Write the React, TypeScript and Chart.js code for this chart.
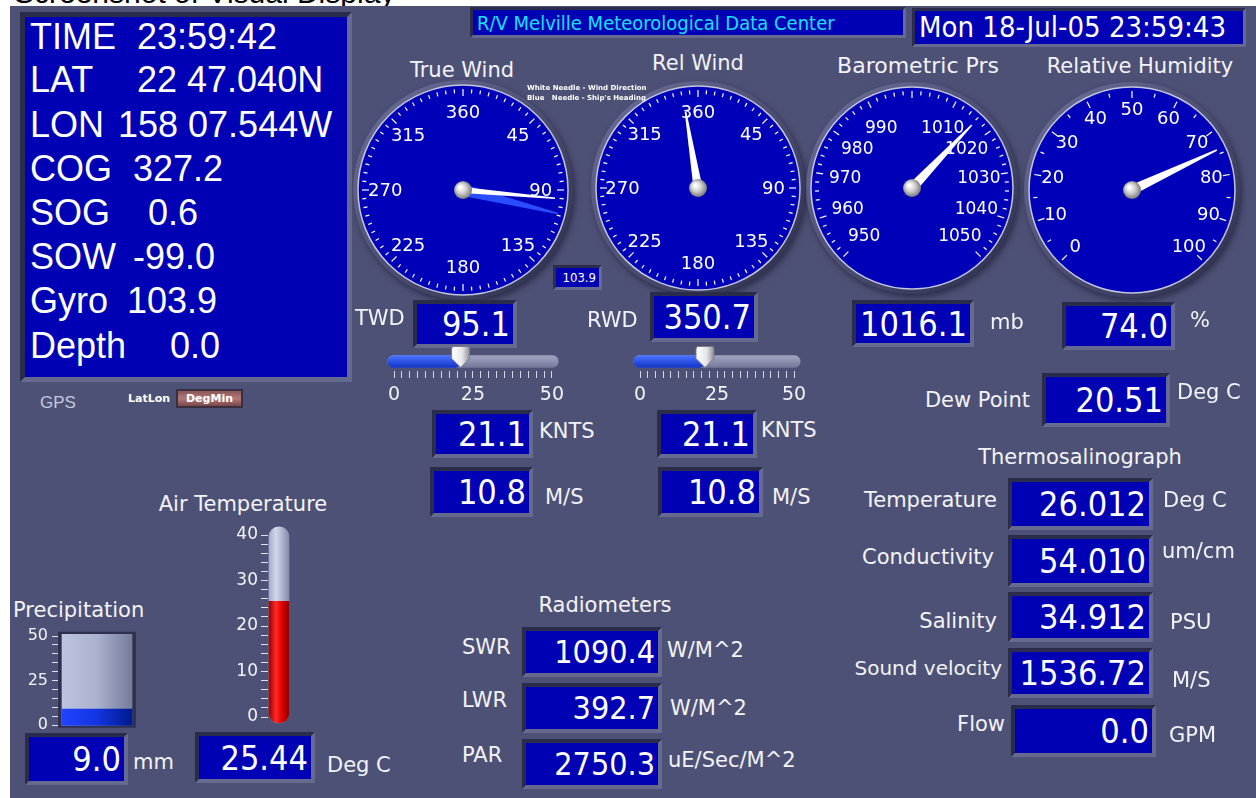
import React, { useEffect, useRef } from "react";
import { Chart, registerables } from "chart.js";

Chart.register(...registerables);

// ================= DATA =================
const captionText = "Screenshot of Visual Display";
const headerTitle = "R/V Melville Meteorological Data Center";
const headerClock = "Mon 18-Jul-05 23:59:43";

const gpsFields = ["TIME", "LAT", "LON", "COG", "SOG", "SOW", "Gyro", "Depth"];
const gpsValues = ["23:59:42", "22 47.040N", "158 07.544W", "327.2", "0.6", "-99.0", "103.9", "0.0"];

const gaugeTitles = ["True Wind", "Rel Wind", "Barometric Prs", "Relative Humidity"];
const compassLabelValues = [0, 45, 90, 135, 180, 225, 270, 315];
const compassLabelTexts = ["360", "45", "90", "135", "180", "225", "270", "315"];
const pressureLabelValues = [950, 960, 970, 980, 990, 1010, 1020, 1030, 1040, 1050];
const humidityLabelValues = [0, 10, 20, 30, 40, 50, 60, 70, 80, 90, 100];

const trueWindDirection = 95.1;
const shipHeading = 103.9;
const relWindDirection = 350.7;
const barometricPressure = 1016.1;
const relativeHumidity = 74.0;

const windSpeedTickValues = [0, 2.5, 5, 7.5, 10, 12.5, 15, 17.5, 20, 22.5, 25, 27.5, 30, 32.5, 35, 37.5, 40, 42.5, 45, 47.5, 50];
const windSpeedTickLabels = [0, 25, 50];
const trueWindKnots = 21.1;
const trueWindMs = 10.8;
const relWindKnots = 21.1;
const relWindMs = 10.8;

const precipTickValues = [0, 5, 10, 15, 20, 25, 30, 35, 40, 45, 50];
const precipTickLabels = [0, 25, 50];
const precipitationMm = 9.0;

const airTempTickValues = [0, 2, 4, 6, 8, 10, 12, 14, 16, 18, 20, 22, 24, 26, 28, 30, 32, 34, 36, 38, 40];
const airTempTickLabels = [0, 10, 20, 30, 40];
const airTemperature = 25.44;

const dewPoint = 20.51;

const tsgLabels = ["Temperature", "Conductivity", "Salinity", "Sound velocity", "Flow"];
const tsgValues = [26.012, 54.01, 34.912, 1536.72, 0.0];
const tsgDecimals = [3, 3, 3, 2, 1];
const tsgUnits = ["Deg C", "um/cm", "PSU", "M/S", "GPM"];

const radLabels = ["SWR", "LWR", "PAR"];
const radValues = [1090.4, 392.7, 2750.3];
const radUnits = ["W/M^2", "W/M^2", "uE/Sec/M^2"];

// ================= STYLE =================
const PANEL = "#4e5176";
const BLUE = "#0000b4";
const BEV_D = "#2a2c4a";
const BEV_L = "#666a8e";
const TXT = "#f3f3f7";
const LFONT = '"DejaVu Sans", Verdana, sans-serif';
const VFONT = '"DejaVu Sans Condensed", "DejaVu Sans", sans-serif';
const AFONT = '"Liberation Sans", Arial, sans-serif';

function Txt({ x, y, text, size = 21, align = "left", color = TXT, font = LFONT, bold = false, stretch = "normal" }: any) {
  const tx = align === "left" ? "0" : align === "center" ? "-50%" : "-100%";
  return (
    <div
      style={{
        position: "absolute",
        left: x,
        top: y,
        transform: `translate(${tx},-50%)`,
        fontFamily: font,
        fontSize: size,
        lineHeight: 1,
        color,
        whiteSpace: "pre",
        fontWeight: bold ? 700 : 400,
        fontStretch: stretch,
      }}
    >
      {text}
    </div>
  );
}

function Box({ x, y, w, h, text, size = 34, bw = 4, pr = 3, align = "flex-end", color = "#fff" }: any) {
  return (
    <div
      style={{
        position: "absolute",
        left: x,
        top: y,
        width: w,
        height: h,
        boxSizing: "border-box",
        background: BLUE,
        borderStyle: "solid",
        borderWidth: bw,
        borderColor: `${BEV_D} ${BEV_L} ${BEV_L} ${BEV_D}`,
        color,
        fontFamily: VFONT,
        fontStretch: "condensed",
        fontSize: size,
        lineHeight: 1,
        display: "flex",
        alignItems: "center",
        justifyContent: align,
        paddingRight: pr,
        paddingLeft: 4,
        whiteSpace: "nowrap",
      }}
    >
      {text}
    </div>
  );
}

const baseOpts: any = {
  animation: false,
  responsive: false,
  events: [],
  devicePixelRatio: 1,
  plugins: { legend: { display: false }, tooltip: { enabled: false } },
};

const hGrad = (stops: [number, string][], width: number) => (c: any) => {
  const chart = c.chart;
  const a = chart.chartArea;
  if (!a) return stops[0][1];
  const m = (a.left + a.right) / 2;
  const g = chart.ctx.createLinearGradient(m - width / 2, 0, m + width / 2, 0);
  stops.forEach(([o, col]) => g.addColorStop(o, col));
  return g;
};
const vGrad = (stops: [number, string][], height: number) => (c: any) => {
  const chart = c.chart;
  const a = chart.chartArea;
  if (!a) return stops[0][1];
  const m = (a.top + a.bottom) / 2;
  const g = chart.ctx.createLinearGradient(0, m - height / 2, 0, m + height / 2);
  stops.forEach(([o, col]) => g.addColorStop(o, col));
  return g;
};

// ================= GAUGE =================
type Needle = { value: number; color: string; width: number; len: number };
type GaugeCfg = {
  cx: number;
  cy: number;
  r: number;
  min: number;
  max: number;
  a0: number;
  a1: number;
  labelValues: number[];
  labelTexts: string[];
  labelR: number;
  labelSize: number;
  tickStep: number;
  majorStep: number;
  needles: Needle[];
};

function Gauge({ cfg }: { cfg: GaugeCfg }) {
  const ref = useRef<HTMLCanvasElement>(null);
  const pad = 16;
  const size = cfg.r * 2 + pad * 2;
  useEffect(() => {
    const ang = (v: number) => ((cfg.a0 + ((v - cfg.min) / (cfg.max - cfg.min)) * (cfg.a1 - cfg.a0)) * Math.PI) / 180;
    const plugin = {
      id: "dialFace",
      beforeDatasetsDraw(chart: any) {
        const el: any = chart.getDatasetMeta(0).data[0];
        const { x, y } = el;
        const R = el.outerRadius;
        const ctx = chart.ctx;
        ctx.save();
        ctx.shadowColor = "rgba(15,15,35,0.55)";
        ctx.shadowBlur = 6;
        ctx.shadowOffsetX = 2;
        ctx.shadowOffsetY = 3;
        const g = ctx.createLinearGradient(x - R, y - R, x + R, y + R);
        g.addColorStop(0, "#6c6f98");
        g.addColorStop(1, "#2c2e4e");
        ctx.fillStyle = g;
        ctx.beginPath();
        ctx.arc(x, y, R + 5, 0, Math.PI * 2);
        ctx.fill();
        ctx.restore();
      },
      afterDatasetsDraw(chart: any) {
        const el: any = chart.getDatasetMeta(0).data[0];
        const { x, y } = el;
        const R = el.outerRadius;
        const ctx = chart.ctx;
        ctx.save();
        ctx.strokeStyle = "#c4c6dc";
        ctx.lineWidth = 1.5;
        ctx.beginPath();
        ctx.arc(x, y, R, 0, Math.PI * 2);
        ctx.stroke();
        const full = cfg.a1 - cfg.a0 >= 360;
        const steps = Math.round((cfg.max - cfg.min) / cfg.tickStep);
        ctx.strokeStyle = "#ffffff";
        ctx.lineWidth = 1.2;
        for (let i = 0; i < (full ? steps : steps + 1); i++) {
          const v = cfg.min + i * cfg.tickStep;
          const rem = Math.abs((v - cfg.min) % cfg.majorStep);
          const major = rem < 1e-6 || Math.abs(rem - cfg.majorStep) < 1e-6;
          const a = ang(v);
          const r1 = R - 4;
          const r2 = R - (major ? 11 : 8);
          ctx.beginPath();
          ctx.moveTo(x + Math.sin(a) * r1, y - Math.cos(a) * r1);
          ctx.lineTo(x + Math.sin(a) * r2, y - Math.cos(a) * r2);
          ctx.stroke();
        }
        ctx.fillStyle = "#ffffff";
        ctx.font = `${cfg.labelSize}px "DejaVu Sans"`;
        ctx.textAlign = "center";
        ctx.textBaseline = "middle";
        cfg.labelValues.forEach((v, i) => {
          const a = ang(v);
          ctx.fillText(cfg.labelTexts[i], x + Math.sin(a) * R * cfg.labelR, y - Math.cos(a) * R * cfg.labelR + 1);
        });
        cfg.needles.forEach((n) => {
          const a = ang(n.value);
          const L = R * n.len;
          const ux = Math.sin(a);
          const uy = -Math.cos(a);
          const px = -uy;
          const py = ux;
          ctx.beginPath();
          ctx.moveTo(x + (px * n.width) / 2, y + (py * n.width) / 2);
          ctx.lineTo(x + ux * L + px * 0.8, y + uy * L + py * 0.8);
          ctx.lineTo(x + ux * L - px * 0.8, y + uy * L - py * 0.8);
          ctx.lineTo(x - (px * n.width) / 2, y - (py * n.width) / 2);
          ctx.closePath();
          ctx.fillStyle = n.color;
          ctx.fill();
        });
        const hg = ctx.createRadialGradient(x - 3, y - 3, 1, x, y, 10);
        hg.addColorStop(0, "#ffffff");
        hg.addColorStop(0.45, "#cfcfcf");
        hg.addColorStop(1, "#6a6a6a");
        ctx.fillStyle = hg;
        ctx.beginPath();
        ctx.arc(x, y, 9, 0, Math.PI * 2);
        ctx.fill();
        ctx.restore();
      },
    };
    const chart = new Chart(ref.current as HTMLCanvasElement, {
      type: "pie",
      data: {
        labels: ["dial"],
        datasets: [{ data: [1], backgroundColor: "#0000b8", borderWidth: 0, hoverOffset: 0 } as any],
      },
      options: { ...baseOpts, layout: { padding: pad } },
      plugins: [plugin],
    } as any);
    return () => chart.destroy();
  }, []);
  return (
    <canvas
      ref={ref}
      width={size}
      height={size}
      style={{ position: "absolute", left: cfg.cx - size / 2, top: cfg.cy - size / 2, width: size, height: size }}
    />
  );
}

// ================= SLIDER =================
function SpeedSlider({ left, top, width, padL, padR, value }: any) {
  const ref = useRef<HTMLCanvasElement>(null);
  const height = 70;
  useEffect(() => {
    const thumb = {
      id: "thumb",
      afterDatasetsDraw(chart: any) {
        const ctx = chart.ctx;
        const px = chart.scales.x.getPixelForValue(value);
        const el: any = chart.getDatasetMeta(0).data[0];
        const cy = el.y;
        ctx.save();
        const g = ctx.createLinearGradient(px - 8, 0, px + 8, 0);
        g.addColorStop(0, "#ffffff");
        g.addColorStop(0.6, "#e6e6ea");
        g.addColorStop(1, "#9a9aa4");
        ctx.fillStyle = g;
        ctx.strokeStyle = "#7c7c88";
        ctx.lineWidth = 1;
        ctx.beginPath();
        ctx.moveTo(px - 7, cy - 15);
        ctx.lineTo(px + 7, cy - 15);
        ctx.quadraticCurveTo(px + 9, cy - 15, px + 9, cy - 12);
        ctx.lineTo(px + 9, cy - 3);
        ctx.lineTo(px, cy + 6);
        ctx.lineTo(px - 9, cy - 3);
        ctx.lineTo(px - 9, cy - 12);
        ctx.quadraticCurveTo(px - 9, cy - 15, px - 7, cy - 15);
        ctx.closePath();
        ctx.fill();
        ctx.stroke();
        ctx.restore();
      },
    };
    const chart = new Chart(ref.current as HTMLCanvasElement, {
      type: "bar",
      data: {
        labels: ["speed"],
        datasets: [
          {
            data: [[-2, value]],
            backgroundColor: vGrad([[0, "#4a74ff"], [1, "#1234c8"]], 12),
            borderSkipped: false,
            borderRadius: 6,
            barThickness: 12,
            grouped: false,
            order: 0,
            clip: false,
          },
          {
            data: [[-2, 52]],
            backgroundColor: vGrad([[0, "#a2a5c0"], [1, "#75789a"]], 12),
            borderSkipped: false,
            borderRadius: 6,
            barThickness: 12,
            grouped: false,
            order: 1,
            clip: false,
          },
        ],
      },
      options: {
        ...baseOpts,
        indexAxis: "y",
        layout: { padding: { top: 7, bottom: 14, left: padL, right: padR } },
        scales: {
          y: { display: false },
          x: {
            min: 0,
            max: 50,
            afterBuildTicks: (s: any) => {
              s.ticks = windSpeedTickValues.map((v) => ({ value: v }));
            },
            afterFit: (s: any) => {
              s.height = 30;
            },
            ticks: {
              autoSkip: false,
              maxRotation: 0,
              padding: 6,
              color: TXT,
              font: { family: "DejaVu Sans", size: 19 },
              callback: (v: any) => (windSpeedTickLabels.includes(Number(v)) ? String(v) : ""),
            },
            grid: { drawOnChartArea: false, drawTicks: true, tickLength: 7, color: "#d8d8e4" },
            border: { display: false },
          },
        },
      },
      plugins: [thumb],
    } as any);
    return () => chart.destroy();
  }, []);
  return <canvas ref={ref} width={width} height={height} style={{ position: "absolute", left, top, width, height }} />;
}

// ================= THERMOMETER =================
function Thermometer() {
  const ref = useRef<HTMLCanvasElement>(null);
  const W = 90;
  const H = 220;
  useEffect(() => {
    const chart = new Chart(ref.current as HTMLCanvasElement, {
      type: "bar",
      data: {
        labels: ["air"],
        datasets: [
          {
            data: [[-1.3, airTemperature]],
            backgroundColor: hGrad([[0, "#a00000"], [0.35, "#ff2a2a"], [0.65, "#e00000"], [1, "#8a0000"]], 20),
            borderSkipped: false,
            borderRadius: { topLeft: 0, topRight: 0, bottomLeft: 10, bottomRight: 10 },
            barThickness: 20,
            grouped: false,
            order: 0,
            clip: false,
          },
          {
            data: [[-1.3, 41.8]],
            backgroundColor: hGrad([[0, "#a4acc8"], [0.35, "#d2d8ee"], [1, "#868ca8"]], 20),
            borderSkipped: false,
            borderRadius: 10,
            barThickness: 20,
            grouped: false,
            order: 1,
            clip: false,
          },
        ],
      },
      options: {
        ...baseOpts,
        layout: { padding: { top: 20, bottom: 18, left: 0, right: 18 } },
        scales: {
          x: { display: false },
          y: {
            min: 0,
            max: 40,
            afterBuildTicks: (s: any) => {
              s.ticks = airTempTickValues.map((v) => ({ value: v }));
            },
            afterFit: (s: any) => {
              s.width = 50;
            },
            ticks: {
              autoSkip: false,
              padding: 3,
              color: TXT,
              font: { family: "DejaVu Sans", size: 17 },
              callback: (v: any) => (airTempTickLabels.includes(Number(v)) ? String(v) : ""),
            },
            grid: { drawOnChartArea: false, drawTicks: true, tickLength: 7, color: "#e0e0ea" },
            border: { display: false },
          },
        },
      },
    } as any);
    return () => chart.destroy();
  }, []);
  return <canvas ref={ref} width={W} height={H} style={{ position: "absolute", left: 218, top: 515, width: W, height: H }} />;
}

// ================= PRECIPITATION =================
function RainGauge() {
  const ref = useRef<HTMLCanvasElement>(null);
  const W = 130;
  const H = 120;
  useEffect(() => {
    const chart = new Chart(ref.current as HTMLCanvasElement, {
      type: "bar",
      data: {
        labels: ["rain"],
        datasets: [
          {
            data: [[-0.3, precipitationMm]],
            backgroundColor: hGrad([[0, "#2244ff"], [0.5, "#1434e0"], [1, "#001a8c"]], 70),
            borderSkipped: false,
            barThickness: 70,
            grouped: false,
            order: 0,
            clip: false,
          },
          {
            data: [[-0.3, 51]],
            backgroundColor: hGrad([[0, "#bcc4e0"], [0.5, "#aab2ce"], [1, "#767c9a"]], 70),
            borderSkipped: false,
            barThickness: 70,
            grouped: false,
            order: 1,
            clip: false,
          },
          {
            data: [[-1.4, 52.2]],
            backgroundColor: "#2e3050",
            borderSkipped: false,
            barThickness: 77,
            grouped: false,
            order: 2,
            clip: false,
          },
        ],
      },
      options: {
        ...baseOpts,
        layout: { padding: { top: 16, bottom: 15, left: 0, right: 12 } },
        scales: {
          x: { display: false },
          y: {
            min: 0,
            max: 50,
            afterBuildTicks: (s: any) => {
              s.ticks = precipTickValues.map((v) => ({ value: v }));
            },
            afterFit: (s: any) => {
              s.width = 40;
            },
            ticks: {
              autoSkip: false,
              padding: 4,
              color: TXT,
              font: { family: "DejaVu Sans", size: 16 },
              callback: (v: any) => (precipTickLabels.includes(Number(v)) ? String(v) : ""),
            },
            grid: { drawOnChartArea: false, drawTicks: true, tickLength: 6, color: "#e0e0ea" },
            border: { display: false },
          },
        },
      },
    } as any);
    return () => chart.destroy();
  }, []);
  return <canvas ref={ref} width={W} height={H} style={{ position: "absolute", left: 18, top: 620, width: W, height: H }} />;
}

// ================= APP =================
const gpsRowY = [37, 80, 125, 169, 213, 257, 301, 346];
const gpsValueX = [137, 137, 118, 133, 148, 133, 127, 170];
const tsgBoxY = [478, 535, 592, 648, 705];
const tsgBoxH = [52, 52, 50, 50, 52];
const tsgLabelY = [500, 557, 621, 668, 724];
const tsgLabelRight = [997, 994, 997, 1002, 1005];
const tsgUnitX = [1163, 1162, 1170, 1172, 1169];
const tsgUnitY = [500, 551, 622, 680, 735];
const radBoxY = [627, 683, 739];
const radLabelY = [647, 700, 755];
const radUnitX = [667, 670, 668];
const radUnitY = [650, 708, 760];

const gauges: GaugeCfg[] = [
  {
    cx: 463, cy: 190, r: 105, min: 0, max: 360, a0: 0, a1: 360,
    labelValues: compassLabelValues, labelTexts: compassLabelTexts, labelR: 0.74, labelSize: 18,
    tickStep: 5, majorStep: 45,
    needles: [
      { value: shipHeading, color: "#2a4cff", width: 12, len: 0.93 },
      { value: trueWindDirection, color: "#ffffff", width: 6, len: 0.88 },
    ],
  },
  {
    cx: 698, cy: 188, r: 102, min: 0, max: 360, a0: 0, a1: 360,
    labelValues: compassLabelValues, labelTexts: compassLabelTexts, labelR: 0.74, labelSize: 18,
    tickStep: 5, majorStep: 45,
    needles: [{ value: relWindDirection, color: "#ffffff", width: 9, len: 0.76 }],
  },
  {
    cx: 912, cy: 188, r: 101, min: 950, max: 1050, a0: -135, a1: 135,
    labelValues: pressureLabelValues, labelTexts: pressureLabelValues.map(String), labelR: 0.67, labelSize: 17,
    tickStep: 2, majorStep: 10,
    needles: [{ value: barometricPressure, color: "#ffffff", width: 10, len: 0.86 }],
  },
  {
    cx: 1132, cy: 190, r: 103, min: 0, max: 100, a0: -135, a1: 135,
    labelValues: humidityLabelValues, labelTexts: humidityLabelValues.map(String), labelR: 0.78, labelSize: 18,
    tickStep: 5, majorStep: 10,
    needles: [{ value: relativeHumidity, color: "#ffffff", width: 10, len: 0.91 }],
  },
];

export default function App() {
  useEffect(() => {
    document.body.style.margin = "0";
  }, []);
  return (
    <div style={{ position: "fixed", left: 0, top: 0, width: 1256, height: 798, background: "#ffffff", overflow: "hidden" }}>
      <Txt x={14} y={-7} text={captionText} size={30} font={AFONT} color="#000" />
      <div style={{ position: "absolute", left: 10, top: 6, width: 1246, height: 792, background: PANEL }} />

      {/* GPS block */}
      <div
        style={{
          position: "absolute", left: 20, top: 12, width: 332, height: 370, boxSizing: "border-box",
          background: BLUE, borderStyle: "solid", borderWidth: 5, borderColor: `${BEV_D} ${BEV_L} ${BEV_L} ${BEV_D}`,
        }}
      />
      {gpsFields.map((f, i) => (
        <React.Fragment key={f}>
          <Txt x={30} y={gpsRowY[i]} text={f} size={36} font={AFONT} color="#ffffff" />
          <Txt x={gpsValueX[i]} y={gpsRowY[i]} text={gpsValues[i]} size={36} font={AFONT} color="#ffffff" />
        </React.Fragment>
      ))}
      <Txt x={40} y={402} text="GPS" size={17} font={AFONT} color="#c6c8dc" />
      <Txt x={128} y={398} text="LatLon" size={11} font={LFONT} bold color="#ffffff" />
      <div
        style={{
          position: "absolute", left: 176, top: 389, width: 67, height: 19, boxSizing: "border-box",
          background: "linear-gradient(#8a5656, #b07a78 50%, #7a4646)", border: "2px solid #3a2e40",
          color: "#fff", fontFamily: LFONT, fontWeight: 700, fontSize: 11, display: "flex",
          alignItems: "center", justifyContent: "center",
        }}
      >
        DegMin
      </div>

      {/* Header */}
      <Box x={470} y={7} w={436} h={31} bw={3} text={headerTitle} size={20} align="flex-start" color="#18e0ff" pr={0} />
      <Box x={912} y={8} w={334} h={39} bw={3} text={headerClock} size={29} align="flex-start" pr={0} />

      {/* Gauges */}
      <Txt x={462} y={70} text={gaugeTitles[0]} align="center" />
      <Txt x={698} y={63} text={gaugeTitles[1]} align="center" />
      <Txt x={918} y={66} text={gaugeTitles[2]} align="center" size={22} />
      <Txt x={1140} y={66} text={gaugeTitles[3]} align="center" />
      {gauges.map((g, i) => (
        <Gauge key={i} cfg={g} />
      ))}
      <Txt x={527} y={88} text="White Needle - Wind Direction" size={7} bold color="#ffffff" />
      <Txt x={527} y={98} text="Blue   Needle - Ship's Heading" size={7} bold color="#ffffff" />
      <Box x={553} y={265} w={49} h={25} bw={3} size={13} text={shipHeading.toFixed(1)} />

      {/* Wind direction values */}
      <Txt x={355} y={318} text="TWD" />
      <Box x={413} y={300} w={104} h={48} text={trueWindDirection.toFixed(1)} />
      <Txt x={587} y={320} text="RWD" />
      <Box x={650} y={292} w={108} h={50} text={relWindDirection.toFixed(1)} />
      <Box x={852} y={300} w={122} h={47} text={barometricPressure.toFixed(1)} />
      <Txt x={990} y={322} text="mb" />
      <Box x={1062} y={302} w={113} h={48} text={relativeHumidity.toFixed(1)} />
      <Txt x={1190} y={320} text="%" />

      {/* Sliders */}
      <SpeedSlider left={380} top={345} width={190} padL={14} padR={14} value={trueWindKnots} />
      <SpeedSlider left={626} top={345} width={190} padL={14} padR={22} value={relWindKnots} />

      <Box x={432} y={410} w={101} h={48} text={trueWindKnots.toFixed(1)} />
      <Txt x={539} y={431} text="KNTS" />
      <Box x={430} y={467} w={103} h={50} text={trueWindMs.toFixed(1)} />
      <Txt x={545} y={497} text="M/S" />
      <Box x={657} y={410} w={100} h={48} text={relWindKnots.toFixed(1)} />
      <Txt x={761} y={430} text="KNTS" />
      <Box x={658} y={467} w={105} h={50} text={relWindMs.toFixed(1)} />
      <Txt x={772} y={497} text="M/S" />

      {/* Dew point & TSG */}
      <Txt x={1030} y={400} text="Dew Point" align="right" />
      <Box x={1042} y={373} w={128} h={54} text={dewPoint.toFixed(2)} />
      <Txt x={1177} y={392} text="Deg C" />
      <Txt x={1080} y={457} text="Thermosalinograph" align="center" />
      {tsgLabels.map((l, i) => (
        <React.Fragment key={l}>
          <Txt x={tsgLabelRight[i]} y={tsgLabelY[i]} text={l} align="right" size={i === 3 ? 20 : 21} />
          <Box x={i === 4 ? 1011 : 1008} y={tsgBoxY[i]} w={145} h={tsgBoxH[i]} text={tsgValues[i].toFixed(tsgDecimals[i])} />
          <Txt x={tsgUnitX[i]} y={tsgUnitY[i]} text={tsgUnits[i]} />
        </React.Fragment>
      ))}

      {/* Radiometers */}
      <Txt x={605} y={605} text="Radiometers" align="center" />
      {radLabels.map((l, i) => (
        <React.Fragment key={l}>
          <Txt x={462} y={radLabelY[i]} text={l} />
          <Box x={522} y={radBoxY[i]} w={140} h={50} size={32} text={radValues[i].toFixed(1)} />
          <Txt x={radUnitX[i]} y={radUnitY[i]} text={radUnits[i]} />
        </React.Fragment>
      ))}

      {/* Precipitation */}
      <Txt x={13} y={610} text="Precipitation" />
      <RainGauge />
      <Box x={25} y={733} w={103} h={52} text={precipitationMm.toFixed(1)} />
      <Txt x={133} y={762} text="mm" />

      {/* Air temperature */}
      <Txt x={243} y={504} text="Air Temperature" align="center" />
      <Thermometer />
      <Box x={195} y={732} w={120} h={51} text={airTemperature.toFixed(2)} />
      <Txt x={327} y={765} text="Deg C" />
    </div>
  );
}
